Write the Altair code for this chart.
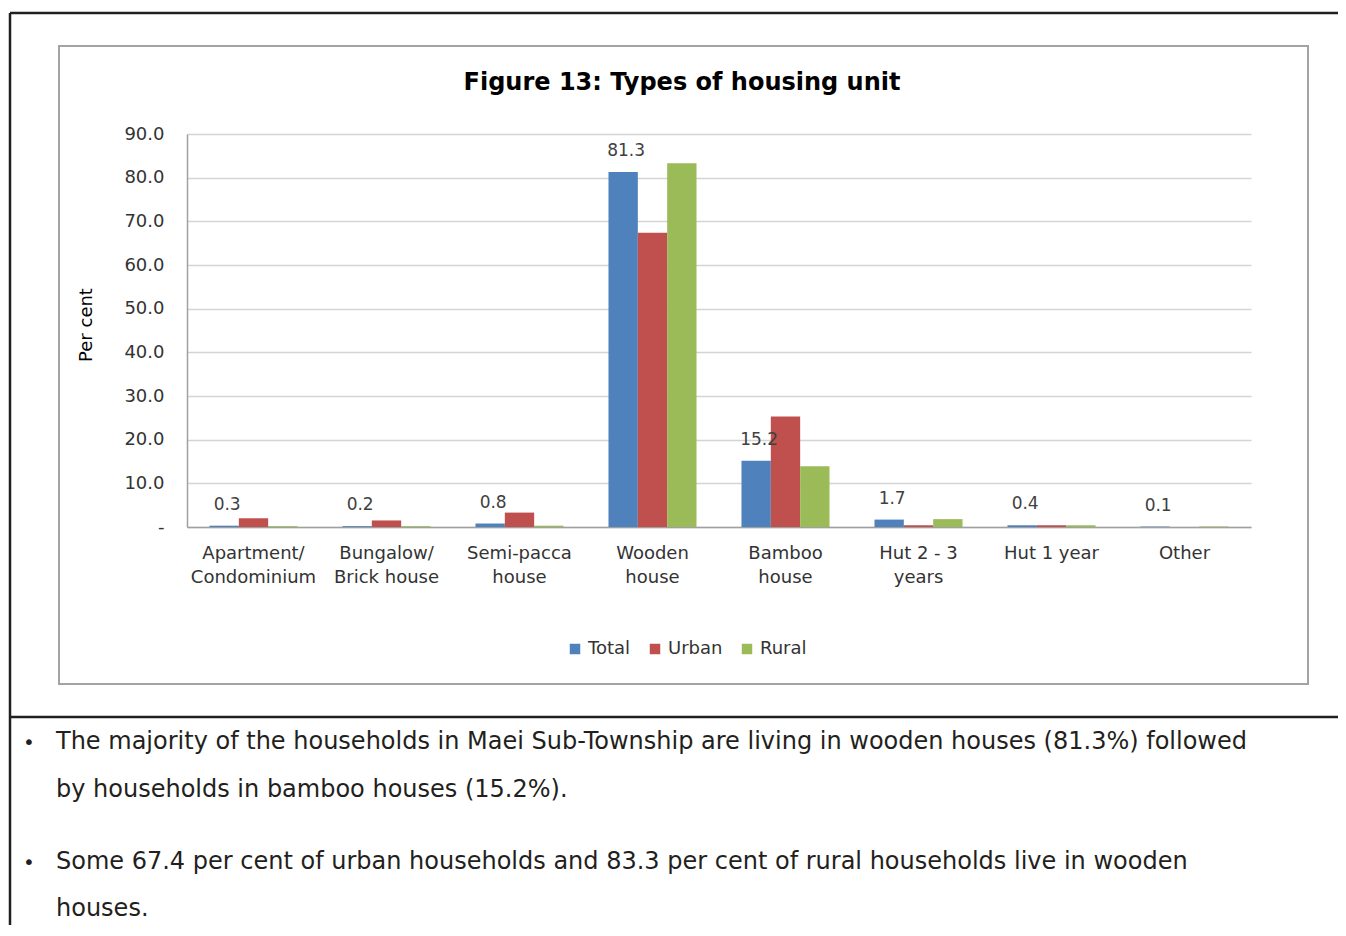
import altair as alt
import pandas as pd

# ---------------- data ----------------
categories = [
    "Apartment/|Condominium",
    "Bungalow/|Brick house",
    "Semi-pacca|house",
    "Wooden|house",
    "Bamboo|house",
    "Hut 2 - 3|years",
    "Hut 1 year",
    "Other",
]
series = ["Total", "Urban", "Rural"]
total_values = [0.3, 0.2, 0.8, 81.3, 15.2, 1.7, 0.4, 0.1]
urban_values = [2.0, 1.5, 3.3, 67.4, 25.3, 0.4, 0.4, 0.0]
rural_values = [0.2, 0.2, 0.3, 83.3, 13.9, 1.8, 0.4, 0.1]
series_colors = ["#4F81BD", "#C0504D", "#9BBB59"]
y_ticks = [0, 10, 20, 30, 40, 50, 60, 70, 80, 90]

chart_title = "Figure 13:  Types of housing unit"
y_title = "Per cent"
bullet1_lines = [
    "The majority of the households in Maei Sub-Township are living in wooden houses (81.3%) followed",
    "by households in bamboo houses (15.2%).",
]
bullet2_lines = [
    "Some 67.4 per cent of urban households and 83.3 per cent of rural households live in wooden",
    "houses.",
]

rows = []
for s, vals in zip(series, [total_values, urban_values, rural_values]):
    for c, v in zip(categories, vals):
        rows.append({"category": c, "series": s, "value": v})
df = pd.DataFrame(rows)

FONT = "DejaVu Sans"
BODY_FONT = "DejaVu Sans"

# plot-area origin on the page
X0, Y0 = 187, 134


def px(x):
    return x - X0


def py(y):
    return y - Y0


W, H = 1064, 393

x_enc = alt.X(
    "category:N",
    sort=categories,
    scale=alt.Scale(paddingInner=0.338, paddingOuter=0.169),
    axis=alt.Axis(
        title=None,
        labelAngle=0,
        labelExpr="split(datum.value, '|')",
        labelFont=FONT,
        labelFontSize=18,
        labelColor="#333333",
        labelPadding=17,
        labelLineHeight=24,
        ticks=False,
        domainColor="#a0a0a0",
        domainWidth=1.5,
        grid=False,
    ),
)
xoff_enc = alt.XOffset("series:N", sort=series, scale=alt.Scale(domain=series, paddingInner=0, paddingOuter=0))
y_enc = alt.Y(
    "value:Q",
    scale=alt.Scale(domain=[0, 90], nice=False),
    axis=alt.Axis(
        title=None,
        values=y_ticks,
        labelExpr="datum.value == 0 ? '-\u00a0\u00a0\u00a0' : format(datum.value, '.1f')",
        labelFont=FONT,
        labelFontSize=18,
        labelColor="#333333",
        labelPadding=23,
        ticks=False,
        domainColor="#a0a0a0",
        domainWidth=1.5,
        gridColor="#d4d4d4",
        gridWidth=1.5,
    ),
)

base = alt.Chart(df)

bars = base.mark_bar().encode(
    x=x_enc,
    xOffset=xoff_enc,
    y=y_enc,
    color=alt.Color(
        "series:N",
        sort=series,
        scale=alt.Scale(domain=series, range=series_colors),
        legend=alt.Legend(
            title=None,
            orient="none",
            legendX=px(566),
            legendY=py(640),
            direction="horizontal",
            symbolType="square",
            symbolSize=110,
            symbolStrokeWidth=0,
            labelFont=FONT,
            labelFontSize=18,
            labelColor="#333333",
            labelOffset=4,
            columnPadding=15,
        ),
    ),
)

value_labels = (
    base.transform_filter(alt.datum.series == "Total")
    .mark_text(baseline="alphabetic", dy=-16, dx=3, font=FONT, fontSize=17, color="#404040")
    .encode(x=x_enc, xOffset=xoff_enc, y=y_enc, text=alt.Text("value:Q", format=".1f"))
)

dummy = alt.Chart(pd.DataFrame({"d": [0]}))

# chart box (grey frame)
chart_box = dummy.mark_rect(fill="white", fillOpacity=0, stroke="#a3a3a3", strokeWidth=2, clip=False).encode(
    x=alt.value(px(59)), x2=alt.value(px(1308)), y=alt.value(py(46)), y2=alt.value(py(684))
)

# page frame lines (dark)
frame_top = dummy.mark_rule(color="#231f20", strokeWidth=2.5, clip=False).encode(
    x=alt.value(px(10)), x2=alt.value(px(1346)), y=alt.value(py(13))
)
frame_left = dummy.mark_rule(color="#231f20", strokeWidth=2.5, clip=False).encode(
    x=alt.value(px(10)), y=alt.value(py(13)), y2=alt.value(py(940))
)
frame_mid = dummy.mark_rule(color="#231f20", strokeWidth=2.5, clip=False).encode(
    x=alt.value(px(10)), x2=alt.value(px(1346)), y=alt.value(py(717))
)

title_mark = dummy.mark_text(
    text=chart_title, font=FONT, fontSize=24, fontWeight="bold", color="#000000", align="center", baseline="middle"
).encode(x=alt.value(px(682)), y=alt.value(py(83)))

y_title_mark = dummy.mark_text(
    text=y_title, font=FONT, fontSize=18, color="#000000", angle=270, align="center", baseline="middle"
).encode(x=alt.value(px(87)), y=alt.value(py(325)))

body_layers = []
for yy, txt in [(749, bullet1_lines[0]), (797, bullet1_lines[1]), (869, bullet2_lines[0]), (916, bullet2_lines[1])]:
    body_layers.append(
        dummy.mark_text(
            text=txt, font=BODY_FONT, fontSize=24, color="#231f20", align="left", baseline="alphabetic"
        ).encode(x=alt.value(px(56)), y=alt.value(py(yy)))
    )
for yy in [749, 869]:
    body_layers.append(
        dummy.mark_text(
            text="\u2022", font=BODY_FONT, fontSize=20, color="#231f20", align="left", baseline="alphabetic"
        ).encode(x=alt.value(px(23)), y=alt.value(py(yy)))
    )

chart = (
    alt.layer(
        chart_box,
        bars,
        value_labels,
        title_mark,
        y_title_mark,
        frame_top,
        frame_left,
        frame_mid,
        *body_layers,
    )
    .properties(
        width=W,
        height=H,
        padding={"left": X0 - 8, "top": Y0 - 8, "right": 87, "bottom": 398},
        autosize=alt.AutoSizeParams(type="none"),
        background="white",
    )
    .configure_view(stroke=None)
)

chart.save("out.html", embed_options={"renderer": "svg", "actions": False})
